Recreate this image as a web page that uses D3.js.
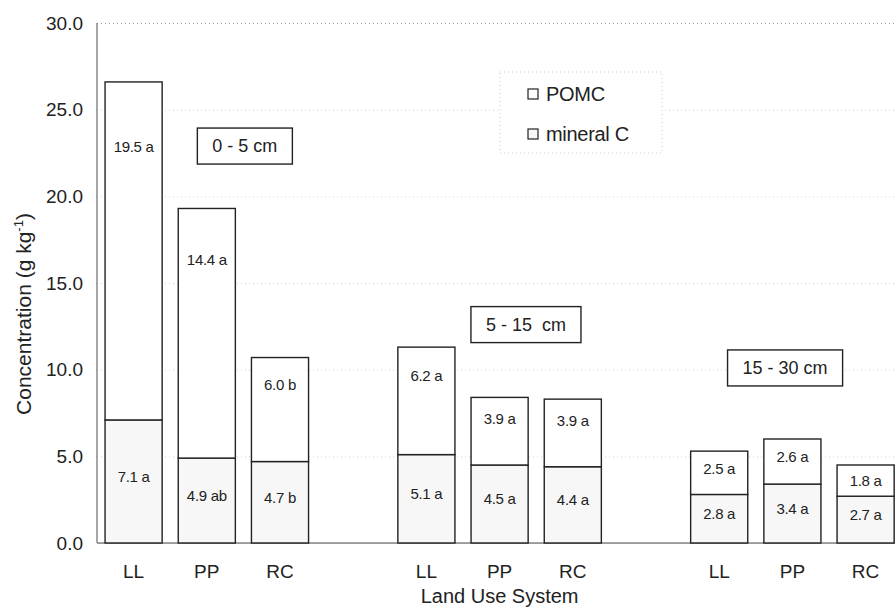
<!DOCTYPE html>
<html>
<head>
<meta charset="utf-8">
<script src="https://cdn.jsdelivr.net/npm/d3@7"></script>
<style>
  body { margin: 0; background: #fff; }
  svg { display: block; font-family: "Liberation Sans", Arial, sans-serif; }
</style>
</head>
<body>
<div id="wrapper"></div>
<script>
// data
const depths = ["0 - 5 cm", "5 - 15  cm", "15 - 30 cm"];
const systems = ["LL", "PP", "RC"];
const mineralC = [7.1, 4.9, 4.7, 5.1, 4.5, 4.4, 2.8, 3.4, 2.7];
const pomc = [19.5, 14.4, 6.0, 6.2, 3.9, 3.9, 2.5, 2.6, 1.8];
const mineralLetters = ["a", "ab", "b", "a", "a", "a", "a", "a", "a"];
const pomcLetters = ["a", "a", "b", "a", "a", "a", "a", "a", "a"];
const yTicks = [0, 5, 10, 15, 20, 25, 30];
// depth boxes: value level (g/kg) and offset from the PP bar, in band steps
const depthLevels = [22.9, 12.6, 10.1];
const depthShift = [0.52, 0.36, -0.1];

function drawChart() {
  const dimensions = {
    width: 895,
    height: 607,
    margin: { top: 23, left: 97 },
    step: 73.2,
    plotHeight: 520,
  };
  const mineralFill = "#f7f7f7";

  // one slot per bar plus an empty slot between depths
  const slots = [];
  depths.forEach((d, i) => {
    systems.forEach(s => slots.push(d + "|" + s));
    if (i < depths.length - 1) slots.push("gap" + i);
  });

  const bars = [];
  depths.forEach((d, i) => {
    systems.forEach((s, j) => {
      const k = i * 3 + j;
      bars.push({
        key: d + "|" + s, system: s,
        mineral: mineralC[k], pomc: pomc[k],
        mLabel: mineralC[k].toFixed(1) + " " + mineralLetters[k],
        pLabel: pomc[k].toFixed(1) + " " + pomcLetters[k],
      });
    });
  });

  const x0 = dimensions.margin.left;
  const xScale = d3.scaleBand()
    .domain(slots)
    .range([x0, x0 + dimensions.step * slots.length])
    .paddingInner(0.22)
    .paddingOuter(0.11);

  const yScale = d3.scaleLinear()
    .domain([0, 30])
    .range([dimensions.margin.top + dimensions.plotHeight, dimensions.margin.top]);

  const svg = d3.select("#wrapper").append("svg")
    .attr("width", dimensions.width)
    .attr("height", dimensions.height);

  // grid lines + y labels
  const yAxis = svg.append("g")
    .attr("transform", `translate(${x0},0)`)
    .call(d3.axisLeft(yScale).tickValues(yTicks).tickFormat(d3.format(".1f"))
      .tickSize(-(dimensions.width - x0)).tickPadding(14));
  yAxis.select(".domain").remove();
  yAxis.selectAll(".tick line")
    .attr("stroke", d => d === 30 ? "#999" : "#d0d0d0")
    .attr("stroke-dasharray", d => d === 0 ? null : "1 3");
  yAxis.selectAll(".tick text")
    .attr("font-size", 19)
    .attr("fill", "#222")
    .attr("font-family", "Liberation Sans, Arial, sans-serif");

  svg.append("line")
    .attr("x1", x0).attr("x2", x0)
    .attr("y1", yScale(30)).attr("y2", yScale(0))
    .attr("stroke", "#888").attr("stroke-width", 1.5);
  svg.append("line")
    .attr("x1", x0).attr("x2", dimensions.width)
    .attr("y1", yScale(0)).attr("y2", yScale(0))
    .attr("stroke", "#888").attr("stroke-width", 1.5);

  // bars
  const g = svg.selectAll(".bar").data(bars).enter().append("g");
  g.append("rect")
    .attr("x", d => xScale(d.key))
    .attr("y", d => yScale(d.mineral))
    .attr("width", xScale.bandwidth())
    .attr("height", d => yScale(0) - yScale(d.mineral))
    .attr("fill", mineralFill)
    .attr("stroke", "#222").attr("stroke-width", 1.4);
  g.append("rect")
    .attr("x", d => xScale(d.key))
    .attr("y", d => yScale(d.mineral + d.pomc))
    .attr("width", xScale.bandwidth())
    .attr("height", d => yScale(d.mineral) - yScale(d.mineral + d.pomc))
    .attr("fill", "#fff")
    .attr("stroke", "#222").attr("stroke-width", 1.4);

  const cx = d => xScale(d.key) + xScale.bandwidth() / 2;
  g.append("text")
    .attr("x", cx)
    .attr("y", d => {
      const top = yScale(d.mineral + d.pomc), h = yScale(d.mineral) - top;
      return top + 0.16 * h + 11;
    })
    .attr("dy", "0.35em")
    .attr("text-anchor", "middle")
    .attr("font-size", 15)
    .attr("letter-spacing", -0.3)
    .attr("fill", "#222")
    .text(d => d.pLabel);
  g.append("text")
    .attr("x", cx)
    .attr("y", d => (yScale(d.mineral) + yScale(0)) / 2 - 5)
    .attr("dy", "0.35em")
    .attr("text-anchor", "middle")
    .attr("font-size", 15)
    .attr("letter-spacing", -0.3)
    .attr("fill", "#222")
    .text(d => d.mLabel);

  // category labels
  svg.selectAll(".cat").data(bars).enter().append("text")
    .attr("x", cx)
    .attr("y", 578)
    .attr("text-anchor", "middle")
    .attr("font-size", 19)
    .attr("fill", "#222")
    .text(d => d.system);

  // depth boxes
  depths.forEach((d, i) => {
    const cxp = xScale(d + "|PP") + xScale.bandwidth() / 2 + depthShift[i] * dimensions.step;
    const cy = yScale(depthLevels[i]);
    const box = svg.append("g");
    const t = box.append("text")
      .attr("x", cxp).attr("y", cy).attr("dy", "0.35em")
      .attr("text-anchor", "middle")
      .attr("font-size", 18).attr("fill", "#222")
      .attr("xml:space", "preserve")
      .style("white-space", "pre")
      .text(d);
    const w = t.node().getComputedTextLength();
    box.insert("rect", "text")
      .attr("x", cxp - w / 2 - 15).attr("y", cy - 18)
      .attr("width", w + 30).attr("height", 36)
      .attr("fill", "#fff").attr("stroke", "#222").attr("stroke-width", 1.4);
  });

  // legend
  const legend = svg.append("g");
  legend.append("rect")
    .attr("x", 500).attr("y", 72).attr("width", 162).attr("height", 81)
    .attr("fill", "#fff").attr("stroke", "#ccc").attr("stroke-dasharray", "1 3");
  const items = [
    { name: "POMC", fill: "#fff" },
    { name: "mineral C", fill: mineralFill },
  ];
  items.forEach((it, i) => {
    const y = 94 + i * 40;
    legend.append("rect")
      .attr("x", 528).attr("y", y - 5).attr("width", 10).attr("height", 10)
      .attr("fill", it.fill).attr("stroke", "#222").attr("stroke-width", 1.2);
    legend.append("text")
      .attr("x", 546).attr("y", y).attr("dy", "0.35em")
      .attr("font-size", 20).attr("letter-spacing", -0.3).attr("fill", "#222")
      .text(it.name);
  });

  // axis titles
  svg.append("text")
    .attr("x", (xScale.range()[0] + xScale.range()[1]) / 2)
    .attr("y", 603)
    .attr("text-anchor", "middle")
    .attr("font-size", 20).attr("fill", "#222")
    .text("Land Use System");

  const yt = svg.append("text")
    .attr("transform", "translate(31,314) rotate(-90)")
    .attr("text-anchor", "middle")
    .attr("font-size", 21).attr("fill", "#222");
  yt.append("tspan").text("Concentration (g kg");
  yt.append("tspan").attr("dy", -8).attr("font-size", 13).text("-1");
  yt.append("tspan").attr("dy", 8).text(")");
}
drawChart();
</script>
</body>
</html>
